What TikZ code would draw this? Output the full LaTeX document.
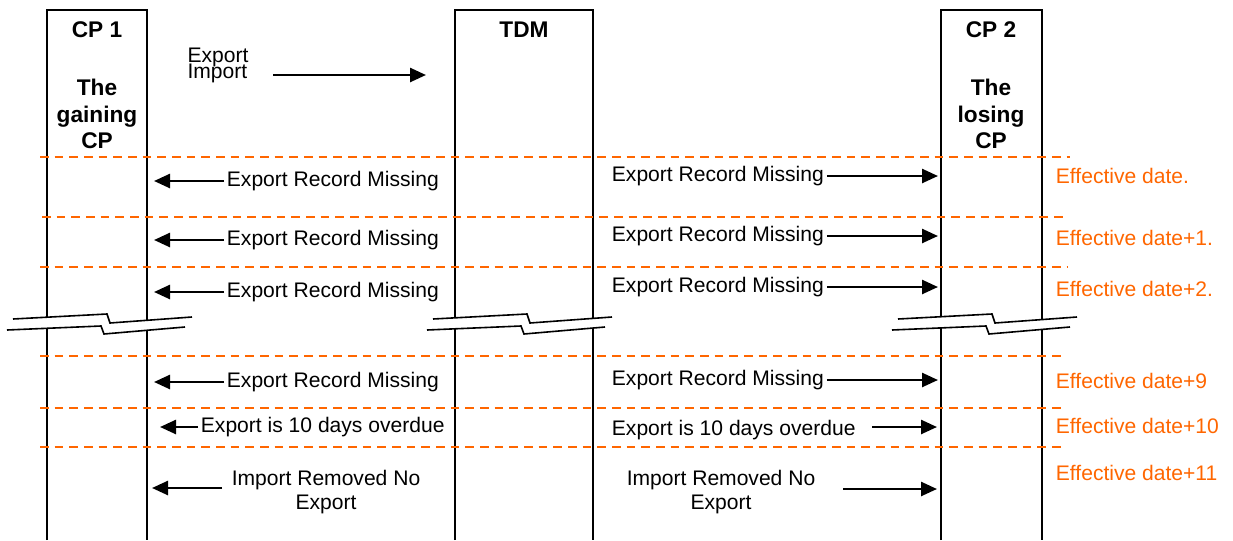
\documentclass[tikz,border=0pt]{standalone}
\usepackage{fontspec}
\setmainfont{Liberation Sans}
\usepackage{xcolor}
\definecolor{dayorange}{RGB}{255,102,0}
\usetikzlibrary{arrows.meta}
\newcommand{\tightlines}{\lineskiplimit-20pt\relax}

\tikzset{
  lifeline/.style={line width=1.5pt},
  msg/.style={line width=1.9pt, -{Triangle[length=12pt,width=10.5pt]}},
  dayline/.style={dayorange, line width=1.4pt, dash pattern=on 6.5pt off 4.5pt},
  lbl/.style={font=\fontsize{15.8}{17.5}\selectfont, inner sep=2pt},
  hdr/.style={font=\fontsize{17}{19.9}\selectfont\bfseries, align=center},
  daylbl/.style={lbl, text=dayorange, anchor=west},
}

\begin{document}
\begin{tikzpicture}[x=0.75pt, y=-0.75pt]
  \useasboundingbox (0,0) rectangle (1233,540);

  % the three columns
  \draw[lifeline] (47,540) |- (147,10) -- (147,540);
  \draw[lifeline] (455,540) |- (593,10) -- (593,540);
  \draw[lifeline] (941,540) |- (1042,10) -- (1042,540);
  \node[hdr] (cp1) at (97,30) {CP 1};
  \node[hdr] (cp1role) at (97,114) {The\\gaining\\CP};
  \node[hdr] (tdm) at (524,30) {TDM};
  \node[hdr] (cp2) at (991,30) {CP 2};
  \node[hdr] (cp2role) at (991,114) {The\\losing\\CP};

  % request
  \node[lbl, align=left, font=\fontsize{15.8}{12}\selectfont\tightlines] (ei) at (218,65) {Export\\Import};
  \coordinate (eifrom) at (273,75);
  \coordinate (eitip) at (426,75);
  \draw[msg] (eifrom) -- (eitip);

  % day lines
  \draw[dayline] (40,157) -- (1070,157);
  \draw[dayline] (42,217) -- (1063,217);
  \draw[dayline] (40,267) -- (1067,267);
  \draw[dayline] (40,356) -- (1065,356);
  \draw[dayline] (40,408) -- (1065,408);
  \draw[dayline] (40,447) -- (1065,447);

  % break marks
  \foreach \dx in {0,420,885}{
    \begin{scope}[shift={(\dx,0)}]
      \fill[white] (13,319) -- (107,314) -- (110,323) -- (192,317) -- (185,327) -- (104,334) -- (101,326) -- (7,330) -- cycle;
      \draw[line width=1.2pt] (13,319) -- (107,314) -- (110,323) -- (192,317);
      \draw[line width=1.2pt] (7,330) -- (101,326) -- (104,334) -- (185,327);
    \end{scope}
  }

  % missing export notices
  \foreach \i/\ya/\yb in {1/181/176, 2/240/236, 3/292/287, 4/382/380}{
    \node[lbl, anchor=west] (gain\i) at (224,\ya) {Export Record Missing};
    \coordinate (gtip\i) at (154,\ya);
    \draw[msg] (gain\i.west) -- (gtip\i);
    \node[lbl, anchor=west] (lose\i) at (609,\yb) {Export Record Missing};
    \coordinate (ltip\i) at (938,\yb);
    \draw[msg] (lose\i.east) -- (ltip\i);
  }

  % overdue
  \node[lbl, anchor=west] (gain5) at (198,427) {Export is 10 days overdue};
  \coordinate (gtip5) at (160,427);
  \draw[msg] (gain5.west) -- (gtip5);
  \node[lbl, anchor=west] (lose5) at (609,430) {Export is 10 days overdue};
  \coordinate (lfrom5) at (872,427);
  \coordinate (ltip5) at (937,427);
  \draw[msg] (lfrom5) -- (ltip5);

  % removed
  \node[lbl, align=center] (gain6) at (326,492) {Import Removed No\\Export};
  \coordinate (gfrom6) at (222,488);
  \coordinate (gtip6) at (152,488);
  \draw[msg] (gfrom6) -- (gtip6);
  \node[lbl, align=center] (lose6) at (721,492) {Import Removed No\\Export};
  \coordinate (lfrom6) at (843,489);
  \coordinate (ltip6) at (937,489);
  \draw[msg] (lfrom6) -- (ltip6);

  % dates
  \node[daylbl] (d0) at (1053,176) {Effective date.};
  \node[daylbl] (d1) at (1053,238) {Effective date+1.};
  \node[daylbl] (d2) at (1053,289) {Effective date+2.};
  \node[daylbl] (d9) at (1053,381) {Effective date+9};
  \node[daylbl] (d10) at (1053,426) {Effective date+10};
  \node[daylbl] (d11) at (1053,473) {Effective date+11};
\end{tikzpicture}
\end{document}
